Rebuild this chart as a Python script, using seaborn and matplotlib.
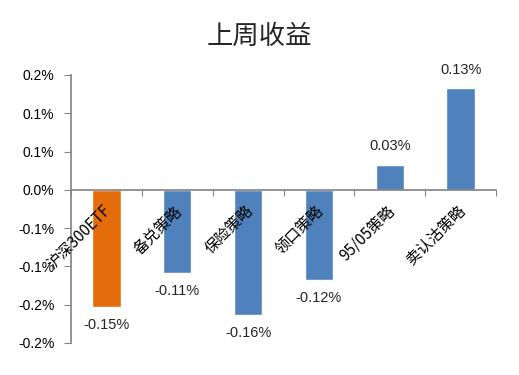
import matplotlib
matplotlib.use("Agg")
import matplotlib.pyplot as plt
import seaborn as sns
import pandas as pd
import numpy as np
from matplotlib.ticker import FixedLocator, FuncFormatter

categories = ["沪深300ETF", "备兑策略", "保险策略", "领口策略", "95/05策略", "卖认沽策略"]
values = [-0.153, -0.108, -0.163, -0.118, 0.033, 0.133]  # percent
labels = ["-0.15%", "-0.11%", "-0.16%", "-0.12%", "0.03%", "0.13%"]
colors = ["#E46C0A", "#4F81BD", "#4F81BD", "#4F81BD", "#4F81BD", "#4F81BD"]
yticks = [-0.20, -0.15, -0.10, -0.05, 0.0, 0.05, 0.10, 0.15]

sns.set_theme(style="white")
plt.rcParams['font.family'] = ['Noto Sans CJK SC', 'DejaVu Sans']

df = pd.DataFrame({"cat": categories, "val": values})
fig = plt.figure(figsize=(5.19, 3.75), dpi=100)
ax = fig.add_axes([71/519, 1-343/375, (496-71)/519, (343-75)/375])
sns.barplot(data=df, x="cat", y="val", hue="cat", palette=colors, legend=False,
            width=0.4, ax=ax, saturation=1)
ax.set_axisbelow(False)

ax.set_ylim(-0.20, 0.15)
ax.set_xlim(-0.5, 5.5)


def fmt(v, p):
    r = np.sign(v) * np.floor(abs(v) * 10 + 0.5 + 1e-9) / 10
    return f"{r + 0.0:.1f}%"


ax.yaxis.set_major_locator(FixedLocator(yticks))
ax.yaxis.set_major_formatter(FuncFormatter(fmt))
ax.tick_params(axis='y', which='major', left=True, length=5, width=0.8, color="#868686",
               labelsize=10, labelcolor="#000000", pad=7)
for t in ax.get_yticklabels():
    t.set_family(['Liberation Sans', 'DejaVu Sans'])

for s in ["top", "right"]:
    ax.spines[s].set_visible(False)
ax.spines["left"].set_color("#868686")
ax.spines["bottom"].set_color("#868686")
ax.spines["bottom"].set_position(("data", 0))

ax.set_xticks(np.arange(len(categories)) - 0.05)
ax.set_xticklabels(categories, rotation=45, ha="right", rotation_mode="anchor",
                   fontsize=11, color="#000000")
ax.set_xticks(np.arange(-0.5, 6, 1), minor=True)
ax.tick_params(axis='x', which='major', length=0, pad=9)
ax.tick_params(axis='x', which='minor', bottom=True, length=4, width=0.8, color="#868686")
ax.set_xlabel("")
ax.set_ylabel("")

for c, lab in zip(ax.containers, [[l] for l in labels]):
    ax.bar_label(c, labels=lab, padding=8, fontsize=10.5,
                 family=['Liberation Sans', 'DejaVu Sans'])

fig.suptitle("上周收益", y=1-36/375, va="center", fontsize=19)
fig.savefig("out.png", dpi=100)
